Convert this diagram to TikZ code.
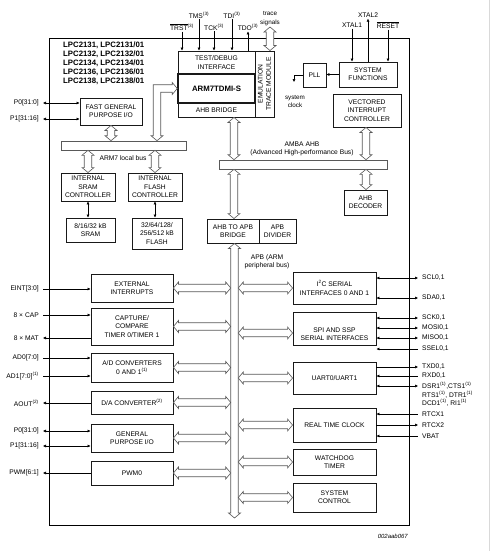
\documentclass[tikz,border=0pt]{standalone}
\usepackage{fontspec}
\setmainfont{Liberation Sans}
\usetikzlibrary{arrows.meta,calc}
\newcommand\hbusarrow[2]{%
 \path[bus] let \p1=(#1), \p2=(#2) in
 (\x1,\y1) -- (\x1+5pt,\y1+6pt) -- (\x1+5pt,\y1+3.75pt) -- (\x2-5pt,\y1+3.75pt) -- (\x2-5pt,\y1+6pt) -- (\x2,\y1)
 -- (\x2-5pt,\y1-6pt) -- (\x2-5pt,\y1-3.75pt) -- (\x1+5pt,\y1-3.75pt) -- (\x1+5pt,\y1-6pt) -- cycle;}
\newcommand\vbusarrow[2]{%
 \path[bus] let \p1=(#1), \p2=(#2) in
 (\x1,\y1) -- (\x1+6pt,\y1-5pt) -- (\x1+3.75pt,\y1-5pt) -- (\x1+3.75pt,\y2+5pt) -- (\x1+6pt,\y2+5pt) -- (\x1,\y2)
 -- (\x1-6pt,\y2+5pt) -- (\x1-3.75pt,\y2+5pt) -- (\x1-3.75pt,\y1-5pt) -- (\x1-6pt,\y1-5pt) -- cycle;}
\begin{document}
\begin{tikzpicture}[x=1pt,y=-1pt,
  font=\fontsize{6.7}{8.3}\selectfont,
  >={Latex[length=3pt,width=3pt]},
  box/.style={draw=black!90,line width=0.9pt,fill=white,inner sep=1pt,align=center},
  busbar/.style={draw=black!65,line width=0.6pt,fill=white,inner sep=0},
  bus/.style={draw=black!65,line width=0.6pt,fill=white,line join=miter},
  sig/.style={draw=black,line width=0.5pt},
  lab/.style={inner sep=1pt,align=center},
  llab/.style={anchor=east,inner xsep=4pt,inner ysep=1pt},
  rlab/.style={anchor=west,inner xsep=4pt,inner ysep=1pt,align=left}]
\useasboundingbox (0,0) rectangle (492,551);
\fill[white] (0,0) rectangle (492,551);
\draw[black!15,line width=0.8pt] (489,0) -- (489,551);

% chip outline
\node[draw,line width=0.8pt,minimum width=360,minimum height=487,inner sep=0] (chip) at (229,281.5) {};
\node[anchor=west,inner sep=0,align=left,font=\fontsize{7.8}{9}\selectfont\bfseries] (title) at (63,63)
 {LPC2131, LPC2131/01\\LPC2132, LPC2132/01\\LPC2134, LPC2134/01\\LPC2136, LPC2136/01\\LPC2138, LPC2138/01};

% coordinates for bus positions
\coordinate (bentx) at (157,0);
\coordinate (ahbx) at (234,0);
\coordinate (decx) at (366,0);
\coordinate (apbx) at (234.5,518);
\coordinate (tracetop) at (270,27);

% ARM core block
\node[box,minimum width=77,minimum height=23] (test) at (216.5,62.5) {TEST/DEBUG\\INTERFACE};
\node[box,minimum width=77,minimum height=14] (ahbbr) at (216.5,110) {AHB BRIDGE};
\node[box,line width=1.5pt,minimum width=77,minimum height=29,font=\fontsize{7.8}{9}\selectfont\bfseries] (arm) at (216.5,88.5) {ARM7TDMI-S};
\node[box,minimum width=19,minimum height=66] (etm) at (264.5,84) {};
\node[rotate=90,align=center,inner sep=0] (etmt) at (etm.center) {EMULATION\\TRACE MODULE};

% top signals
\node[lab] (trst) at (182,27) {$\overline{\mbox{TRST}}$\textsuperscript{(3)}};
\node[lab] (tms) at (199,15) {TMS\textsuperscript{(3)}};
\node[lab] (tck) at (214,27) {TCK\textsuperscript{(3)}};
\node[lab] (tdi) at (232,15) {TDI\textsuperscript{(3)}};
\node[lab] (tdo) at (248,27) {TDO\textsuperscript{(3)}};
\draw[sig,->] (trst.south) -- (trst.south |- test.north);
\draw[sig,->] (tms.south) -- (tms.south |- test.north);
\draw[sig,->] (tck.south) -- (tck.south |- test.north);
\draw[sig,->] (tdi.south) -- (tdi.south |- test.north);
\draw[sig,->] (tdo.south |- test.north) -- (tdo.south);
\node[lab,font=\fontsize{6.3}{8.5}\selectfont] (trace) at (270,18.5) {trace\\signals};
\vbusarrow{tracetop}{etm.north -| tracetop}

% system functions
\node[box,minimum width=23,minimum height=24] (pll) at (314.5,75) {PLL};
\node[box,minimum width=58,minimum height=25] (sysfn) at (368,74.5) {SYSTEM\\FUNCTIONS};
\node[lab] (xtal1) at (352,25) {XTAL1};
\node[lab] (xtal2) at (368,15) {XTAL2};
\node[lab] (reset) at (388,25) {$\overline{\mbox{RESET}}$};
\draw[sig,->] (xtal1.south) -- (xtal1.south |- sysfn.north);
\draw[sig,->] (xtal2.south |- sysfn.north) -- (xtal2.south);
\draw[sig,->] (reset.south) -- (reset.south |- sysfn.north);
\draw[sig,->] (sysfn.west) -- (sysfn.west -| pll.east);
\coordinate (clk) at (294,82);
\draw[sig,->] (pll.west) -- (pll.west -| clk) -- (clk);
\node[lab,font=\fontsize{6.3}{8}\selectfont] (sysclk) at (295,101) {system\\clock};

\node[box,minimum width=68,minimum height=33] (vic) at (367,110.5) {VECTORED\\INTERRUPT\\CONTROLLER};

% AHB
\node[busbar,minimum width=168,minimum height=9] (ahb) at (303,164.5) {};
\node[lab] (ahblab) at (302,149) {AMBA AHB\\(Advanced High-performance Bus)};
\node[box,minimum width=43,minimum height=25] (dec) at (365.5,202.5) {AHB\\DECODER};
\node[box,minimum width=52,minimum height=24] (apbbr) at (233,231) {AHB TO APB\\BRIDGE};
\node[box,minimum width=37,minimum height=24] (apbdiv) at (277.5,231) {APB\\DIVIDER};
\vbusarrow{vic.south -| decx}{ahb.north -| decx}
\vbusarrow{ahb.south -| decx}{dec.north -| decx}
\vbusarrow{ahbbr.south -| ahbx}{ahb.north -| ahbx}
\vbusarrow{ahb.south -| ahbx}{apbbr.north -| ahbx}
\vbusarrow{apbbr.south -| apbx}{apbx}
\node[lab] (apblab) at (267,262) {APB (ARM\\peripheral bus)};

% local bus
\node[box,minimum width=62,minimum height=27] (fgpio) at (111,111.5) {FAST GENERAL\\PURPOSE I/O};
\node[busbar,minimum width=125,minimum height=9] (lbus) at (123.5,145.5) {};
\node[lab] (lbuslab) at (123,158) {ARM7 local bus};
\node[box,minimum width=54,minimum height=28] (sramc) at (88,187) {INTERNAL\\SRAM\\CONTROLLER};
\node[box,minimum width=54,minimum height=28] (flashc) at (155,187) {INTERNAL\\FLASH\\CONTROLLER};
\node[box,minimum width=49,minimum height=24] (sram) at (90.5,230) {8/16/32 kB\\SRAM};
\node[box,minimum width=50,minimum height=31] (flash) at (157,233.5) {32/64/128/\\256/512 kB\\FLASH};
\vbusarrow{fgpio.south}{fgpio.south |- lbus.north}
\vbusarrow{lbus.south -| sramc.north}{sramc.north}
\vbusarrow{lbus.south -| flashc.north}{flashc.north}
\draw[sig,<->] (sramc.south) -- (sramc.south |- sram.north);
\draw[sig,<->] (flashc.south) -- (flashc.south |- flash.north);
\path[bus] let \p1=(arm.west), \p2=(lbus.north -| bentx) in
 (\x1,\y1) -- (\x1-5pt,\y1+6pt) -- (\x1-5pt,\y1+3.75pt) -- (\x2-3.75pt,\y1+3.75pt) -- (\x2-3.75pt,\y2+5pt)
 -- (\x2-6pt,\y2+5pt) -- (\x2,\y2) -- (\x2+6pt,\y2+5pt) -- (\x2+3.75pt,\y2+5pt) -- (\x2+3.75pt,\y1-3.75pt)
 -- (\x1-5pt,\y1-3.75pt) -- (\x1-5pt,\y1-6pt) -- cycle;
\node[llab] (p0a) at (43,103) {P0[31:0]};
\node[llab] (p1a) at (43,119) {P1[31:16]};
\draw[sig,<->] (p0a.east) -- (p0a.east -| fgpio.west);
\draw[sig,<->] (p1a.east) -- (p1a.east -| fgpio.west);

% left peripherals
\coordinate (apbL) at (230.75,0);
\coordinate (apbR) at (238.25,0);
\node[box,minimum width=82,minimum height=28] (ext) at (132,288) {EXTERNAL\\INTERRUPTS};
\node[box,minimum width=82,minimum height=37] (cap) at (132,326.5) {CAPTURE/\\COMPARE\\TIMER 0/TIMER 1};
\node[box,minimum width=82,minimum height=29] (adc) at (132,367.5) {A/D CONVERTERS\\0 AND 1\textsuperscript{(1)}};
\node[box,minimum width=82,minimum height=23] (dac) at (132,402.5) {D/A CONVERTER\textsuperscript{(2)}};
\node[box,minimum width=82,minimum height=28] (gpio) at (132,438) {GENERAL\\PURPOSE I/O};
\node[box,minimum width=82,minimum height=24] (pwm) at (132,473) {PWM0};
\hbusarrow{ext.east}{ext.east -| apbL}
\hbusarrow{cap.east}{cap.east -| apbL}
\hbusarrow{adc.east}{adc.east -| apbL}
\hbusarrow{dac.east}{dac.east -| apbL}
\hbusarrow{gpio.east}{gpio.east -| apbL}
\hbusarrow{pwm.east}{pwm.east -| apbL}

\node[llab] (eint) at (43,289) {EINT[3:0]};
\node[llab] (capin) at (43,315) {8 × CAP};
\node[llab] (mat) at (43,338) {8 × MAT};
\node[llab] (ad0) at (43,358) {AD0[7:0]};
\node[llab] (ad1) at (43,376) {AD1[7:0]\textsuperscript{(1)}};
\node[llab] (aout) at (43,403) {AOUT\textsuperscript{(2)}};
\node[llab] (p0b) at (43,431) {P0[31:0]};
\node[llab] (p1b) at (43,446) {P1[31:16]};
\node[llab] (pwmo) at (43,473) {PWM[6:1]};
\draw[sig,->] (eint.east) -- (eint.east -| ext.west);
\draw[sig,->] (capin.east) -- (capin.east -| cap.west);
\draw[sig,<-] (mat.east) -- (mat.east -| cap.west);
\draw[sig,->] (ad0.east) -- (ad0.east -| adc.west);
\draw[sig,->] (ad1.east) -- (ad1.east -| adc.west);
\draw[sig,<-] (aout.east) -- (aout.east -| dac.west);
\draw[sig,<->] (p0b.east) -- (p0b.east -| gpio.west);
\draw[sig,<->] (p1b.east) -- (p1b.east -| gpio.west);
\draw[sig,<-] (pwmo.east) -- (pwmo.east -| pwm.west);

% right peripherals
\node[box,minimum width=83,minimum height=32] (i2c) at (334.5,288) {I\textsuperscript{2}C SERIAL\\INTERFACES 0 AND 1};
\node[box,minimum width=83,minimum height=33] (spi) at (334.5,328.5) {};
\node[lab] (spit) at (334.5,334) {SPI AND SSP\\SERIAL INTERFACES};
\node[box,minimum width=83,minimum height=32] (uart) at (334.5,378) {UART0/UART1};
\node[box,minimum width=83,minimum height=34] (rtc) at (334.5,425) {REAL TIME CLOCK};
\node[box,minimum width=83,minimum height=26] (wdt) at (334.5,462) {WATCHDOG\\TIMER};
\node[box,minimum width=83,minimum height=29] (sysc) at (334.5,497.5) {SYSTEM\\CONTROL};
\coordinate (spiy) at (0,333);
\hbusarrow{i2c.west -| apbR}{i2c.west}
\hbusarrow{spiy -| apbR}{spiy -| spi.west}
\hbusarrow{uart.west -| apbR}{uart.west}
\hbusarrow{rtc.west -| apbR}{rtc.west}
\hbusarrow{wdt.west -| apbR}{wdt.west}
\hbusarrow{sysc.west -| apbR}{sysc.west}

\node[rlab] (scl) at (418,278) {SCL0,1};
\node[rlab] (sda) at (418,298) {SDA0,1};
\node[rlab] (sck) at (418,318) {SCK0,1};
\node[rlab] (mosi) at (418,328) {MOSI0,1};
\node[rlab] (miso) at (418,338) {MISO0,1};
\node[rlab] (ssel) at (418,349) {SSEL0,1};
\node[rlab] (txd) at (418,367) {TXD0,1};
\node[rlab] (rxd) at (418,376) {RXD0,1};
\node[rlab] (dsr) at (418,386) {DSR1\textsuperscript{(1)},CTS1\textsuperscript{(1)}};
\node[rlab] (rts) at (418,394.5) {RTS1\textsuperscript{(1)}, DTR1\textsuperscript{(1)}};
\node[rlab] (dcd) at (418,403) {DCD1\textsuperscript{(1)}, RI1\textsuperscript{(1)}};
\node[rlab] (rtcx1) at (418,414) {RTCX1};
\node[rlab] (rtcx2) at (418,425) {RTCX2};
\node[rlab] (vbat) at (418,436) {VBAT};
\draw[sig,<->] (i2c.east |- scl.west) -- (scl.west);
\draw[sig,<->] (i2c.east |- sda.west) -- (sda.west);
\draw[sig,<->] (spi.east |- sck.west) -- (sck.west);
\draw[sig,<->] (spi.east |- mosi.west) -- (mosi.west);
\draw[sig,<->] (spi.east |- miso.west) -- (miso.west);
\draw[sig,<-] (spi.east |- ssel.west) -- (ssel.west);
\draw[sig,->] (uart.east |- txd.west) -- (txd.west);
\draw[sig,<-] (uart.east |- rxd.west) -- (rxd.west);
\draw[sig,<->] (uart.east |- dsr.west) -- (dsr.west);
\draw[sig,<-] (rtc.east |- rtcx1.west) -- (rtcx1.west);
\draw[sig,->] (rtc.east |- rtcx2.west) -- (rtcx2.west);
\draw[sig,<-] (rtc.east |- vbat.west) -- (vbat.west);

\node[anchor=east,inner sep=0,font=\fontsize{6}{7}\selectfont\itshape] (code) at (408,536) {002aab067};
\end{tikzpicture}
\end{document}
